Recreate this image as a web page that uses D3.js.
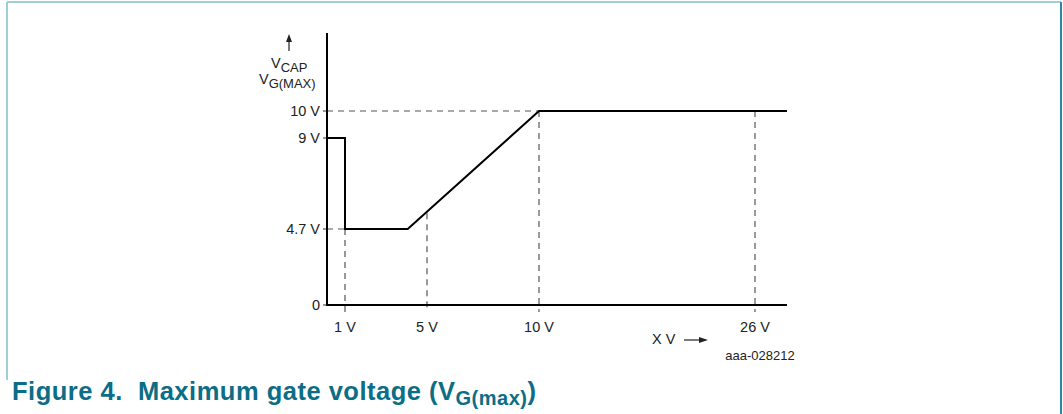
<!DOCTYPE html>
<html>
<head>
<meta charset="utf-8">
<script src="https://cdn.jsdelivr.net/npm/d3@7"></script>
<style>
  body { margin: 0; background: #fff; }
  svg text { font-family: "Liberation Sans", Arial, sans-serif; }
</style>
</head>
<body>
<svg id="chart" width="1063" height="414"></svg>
<script>
// curve points (x in V, y in V) - schematic, not to scale
var curveX = [0, 1, 1, 4.06, 10, 28.4];
var curveY = [9, 9, 4.7, 4.7, 10, 10];

// tick values
var yTicks = [0, 4.7, 9, 10];
var yTickLabels = ["0", "4.7 V", "9 V", "10 V"];
var xTicks = [1, 5, 10, 26];
var xTickLabels = ["1 V", "5 V", "10 V", "26 V"];

// level reached by the curve at each x tick (where the dashed drop line starts)
var xTickLevel = [4.7, 5.45, 10, 10];

var svg = d3.select("#chart");

// the figure is schematic, so both scales are piecewise linear
var x = d3.scaleLinear()
    .domain([0, 1, 5, 10, 26, 28.4])
    .range([327, 345, 427, 539, 755, 787]);

var y = d3.scaleLinear()
    .domain([0, 4.7, 9, 10, 13])
    .range([305, 229, 138, 111, 33]);

// frame
svg.append("line").attr("x1", 7).attr("x2", 1061).attr("y1", 2).attr("y2", 2)
    .attr("stroke", "#9ccfd6").attr("stroke-width", 2);
svg.append("line").attr("x1", 7).attr("x2", 7).attr("y1", 2).attr("y2", 380)
    .attr("stroke", "#9ccfd6").attr("stroke-width", 2);
svg.append("line").attr("x1", 1061).attr("x2", 1061).attr("y1", 2).attr("y2", 414)
    .attr("stroke", "#2a8a98").attr("stroke-width", 2);

var dash = "6,5";
var gray = "#555";

// horizontal dashed guides
svg.append("line")
    .attr("x1", x(0)).attr("x2", x(10))
    .attr("y1", y(10)).attr("y2", y(10))
    .attr("stroke", gray).attr("stroke-width", 1.2).attr("stroke-dasharray", dash);
svg.append("line")
    .attr("x1", x(0)).attr("x2", x(1))
    .attr("y1", y(4.7)).attr("y2", y(4.7))
    .attr("stroke", gray).attr("stroke-width", 1.2).attr("stroke-dasharray", dash);

// vertical dashed guides
svg.selectAll(".vguide").data(xTicks).enter().append("line")
    .attr("class", "vguide")
    .attr("x1", function(d){ return x(d); })
    .attr("x2", function(d){ return x(d); })
    .attr("y1", function(d, i){ return y(xTickLevel[i]); })
    .attr("y2", y(0) + 7)
    .attr("stroke", gray).attr("stroke-width", 1.2).attr("stroke-dasharray", dash);

// y tick marks (small, left of axis)
svg.selectAll(".ytick").data(yTicks).enter().append("line")
    .attr("class", "ytick")
    .attr("x1", x(0) - 4).attr("x2", x(0))
    .attr("y1", function(d){ return y(d); })
    .attr("y2", function(d){ return y(d); })
    .attr("stroke", gray).attr("stroke-width", 1.2);

// axes
svg.append("line").attr("x1", x(0)).attr("x2", x(0)).attr("y1", y(13)).attr("y2", y(0) + 1)
    .attr("stroke", "#000").attr("stroke-width", 2);
svg.append("line").attr("x1", x(0)).attr("x2", x(28.4)).attr("y1", y(0)).attr("y2", y(0))
    .attr("stroke", "#000").attr("stroke-width", 2);

// curve
var pts = curveX.map(function(d, i){ return [d, curveY[i]]; });
var line = d3.line()
    .x(function(d){ return x(d[0]); })
    .y(function(d){ return y(d[1]); });
svg.append("path").datum(pts)
    .attr("d", line)
    .attr("fill", "none").attr("stroke", "#000").attr("stroke-width", 2)
    .attr("stroke-linejoin", "miter");

// y tick labels
svg.selectAll(".ylab").data(yTicks).enter().append("text")
    .attr("class", "ylab")
    .attr("x", x(0) - 7)
    .attr("y", function(d){ return y(d) + 5; })
    .attr("text-anchor", "end")
    .attr("font-size", 14.5)
    .attr("fill", "#222")
    .text(function(d, i){ return yTickLabels[i]; });

// x tick labels
svg.selectAll(".xlab").data(xTicks).enter().append("text")
    .attr("class", "xlab")
    .attr("x", function(d){ return x(d); })
    .attr("y", 332)
    .attr("text-anchor", "middle")
    .attr("font-size", 14.5)
    .attr("fill", "#222")
    .text(function(d, i){ return xTickLabels[i]; });

// x axis title with arrow
svg.append("text").attr("x", 652).attr("y", 344)
    .attr("font-size", 14.5).attr("fill", "#222").text("X V");
svg.append("line").attr("x1", 684).attr("x2", 702).attr("y1", 340).attr("y2", 340)
    .attr("stroke", "#222").attr("stroke-width", 1.2);
svg.append("path").attr("d", "M708,340 L699,337 L699,343 Z").attr("fill", "#222");

svg.append("text").attr("x", 760).attr("y", 360)
    .attr("text-anchor", "middle")
    .attr("font-size", 13).attr("fill", "#222").text("aaa-028212");

// y axis title with arrow
svg.append("line").attr("x1", 289).attr("x2", 289).attr("y1", 41).attr("y2", 51)
    .attr("stroke", "#222").attr("stroke-width", 1.2);
svg.append("path").attr("d", "M289,34 L286,42 L292,42 Z").attr("fill", "#222");

var t1 = svg.append("text").attr("x", 271).attr("y", 68)
    .attr("font-size", 14.5).attr("fill", "#222");
t1.append("tspan").text("V");
t1.append("tspan").attr("dy", 4).attr("font-size", 13).text("CAP");

var t2 = svg.append("text").attr("x", 259).attr("y", 84)
    .attr("font-size", 14.5).attr("fill", "#222");
t2.append("tspan").text("V");
t2.append("tspan").attr("dy", 4).attr("font-size", 13).text("G(MAX)");

// caption
var cap = svg.append("text").attr("x", 12).attr("y", 400)
    .attr("font-size", 25.5).attr("font-weight", "bold").attr("fill", "#0b6d86")
    .attr("letter-spacing", 0.5);
cap.append("tspan").text("Figure 4.\u00a0\u00a0Maximum gate voltage (V");
cap.append("tspan").attr("dy", 5).attr("font-size", 20).text("G(max)");
cap.append("tspan").attr("dy", -5).text(")");
</script>
</body>
</html>
